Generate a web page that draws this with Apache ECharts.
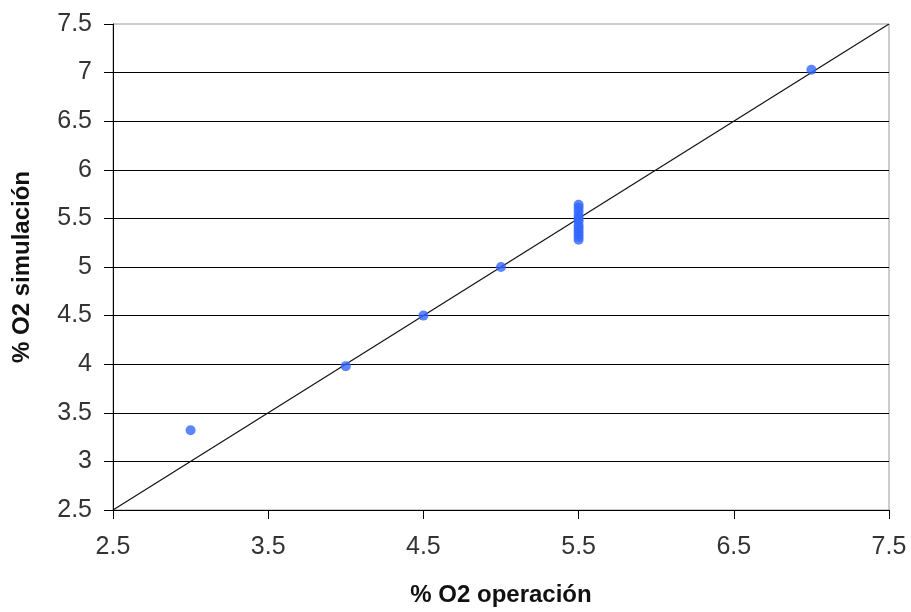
<!DOCTYPE html>
<html>
<head>
<meta charset="utf-8">
<script src="https://cdn.jsdelivr.net/npm/echarts@6/dist/echarts.min.js"></script>
<style>html,body{margin:0;padding:0;background:#fff;}#c{width:911px;height:612px;}</style>
</head>
<body>
<div id="c"></div>
<script>
var xTitle = '% O2 operación';
var yTitle = '% O2 simulación';
var xOperacion = [3, 4, 4.5, 5, 5.5, 5.5, 5.5, 5.5, 5.5, 5.5, 5.5, 5.5, 5.5, 5.5, 5.5, 5.5, 7];
var ySimulacion = [3.32, 3.98, 4.5, 5.0, 5.28, 5.31, 5.34, 5.37, 5.40, 5.43, 5.47, 5.50, 5.53, 5.57, 5.61, 5.64, 7.03];
var diagonalX = [2.5, 7.5];
var diagonalY = [2.5, 7.5];

var pts = xOperacion.map(function (x, i) { return [x, ySimulacion[i]]; });
var diag = diagonalX.map(function (x, i) { return [x, diagonalY[i]]; });

var chart = echarts.init(document.getElementById('c'));
chart.setOption({
  animation: false,
  backgroundColor: '#fff',
  grid: { left: 113, right: 22, top: 24, bottom: 101, show: true, borderColor: '#999', borderWidth: 1, backgroundColor: 'transparent' },
  xAxis: {
    type: 'value', min: 2.5, max: 7.5, interval: 1,
    name: xTitle, nameLocation: 'middle', nameGap: 73,
    nameTextStyle: { fontFamily: 'Liberation Sans', fontWeight: 'bold', fontSize: 24, color: '#111' },
    axisLine: { show: true, lineStyle: { color: '#000', width: 1 } },
    axisTick: { show: true, length: 9, lineStyle: { color: '#000' } },
    axisLabel: { fontFamily: 'Liberation Sans', fontSize: 25, color: '#333', margin: 25 },
    splitLine: { show: false }
  },
  yAxis: {
    type: 'value', min: 2.5, max: 7.5, interval: 0.5,
    name: yTitle, nameLocation: 'middle', nameGap: 79, nameRotate: 90,
    nameTextStyle: { fontFamily: 'Liberation Sans', fontWeight: 'bold', fontSize: 24, color: '#111' },
    axisLine: { show: true, lineStyle: { color: '#000', width: 1 } },
    axisTick: { show: true, length: 9, lineStyle: { color: '#000' } },
    axisLabel: { fontFamily: 'Liberation Sans', fontSize: 25, color: '#333', margin: 21 },
    splitLine: { show: true, showMaxLine: false, lineStyle: { color: '#000', width: 1 } }
  },
  series: [
    {
      type: 'line', data: diag, symbol: 'none', silent: true,
      lineStyle: { color: '#111', width: 1.2 }, z: 2
    },
    {
      type: 'scatter', data: pts, symbol: 'circle', symbolSize: 10,
      itemStyle: { color: '#3366ff' }, z: 3
    }
  ]
});
</script>
</body>
</html>
